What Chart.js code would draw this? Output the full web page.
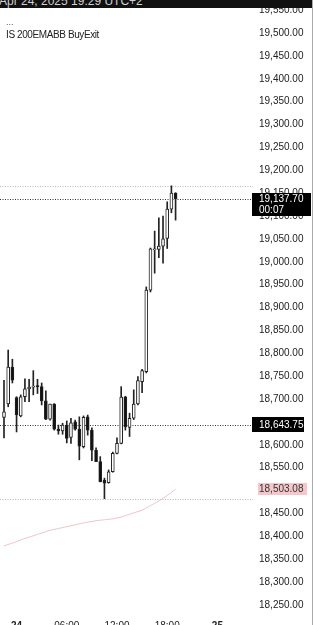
<!DOCTYPE html>
<html>
<head>
<meta charset="utf-8">
<script src="https://cdn.jsdelivr.net/npm/chart.js@4.4.1/dist/chart.umd.min.js"></script>
<style>
  body { margin:0; background:#fff; overflow:hidden; font-family:"Liberation Sans", Arial, sans-serif; }
  #wrap { position:relative; width:313px; height:640px; }
  #topbar { position:absolute; left:0; top:0; width:313px; height:8px; background:#111; overflow:hidden; z-index:2; }
  #topbar span { position:absolute; left:-1px; top:-6px; color:#d0d0d0; font-size:12px; white-space:nowrap; }
  #dots { position:absolute; left:6px; top:17px; font-size:9px; color:#555; z-index:2; }
  #study { position:absolute; left:6px; top:29px; font-size:10px; color:#222; letter-spacing:-0.4px; z-index:2; }
  #edge { position:absolute; left:312px; top:0; width:1px; height:640px; background:#aaa; z-index:2; }
</style>
</head>
<body>
<div id="wrap">
  <div id="topbar"><span>Apr 24, 2025 19:29 UTC+2</span></div>
  <div id="dots">...</div>
  <div id="study">IS 200EMABB BuyExit</div>
  <div id="edge"></div>
  <canvas id="myChart"></canvas>
</div>
<script>
// 30 minute bars, 23 Apr 22:30 -> 24 Apr 19:00, then empty space up to 25 Apr 04:00
const times = [
  '23 22:30','23 23:00','23 23:30','24 00:00','24 00:30','24 01:00','24 01:30','24 02:00',
  '24 02:30','24 03:00','24 03:30','24 04:00','24 04:30','24 05:00','24 05:30','24 06:00',
  '24 06:30','24 07:00','24 07:30','24 08:00','24 08:30','24 09:00','24 09:30','24 10:00',
  '24 10:30','24 11:00','24 11:30','24 12:00','24 12:30','24 13:00','24 13:30','24 14:00',
  '24 14:30','24 15:00','24 15:30','24 16:00','24 16:30','24 17:00','24 17:30','24 18:00',
  '24 18:30','24 19:00','24 19:30','24 20:00','24 20:30','24 21:00','24 21:30','24 22:00',
  '24 22:30','24 23:00','24 23:30','25 00:00','25 00:30','25 01:00','25 01:30','25 02:00',
  '25 02:30','25 03:00','25 03:30','25 04:00'
];

const open  = [18660,18689,18770,18703,18663,18705,18722,18726,18728,18727,18696,18656,18689,18634,18630,18643,
               18616,18650,18634,18596,18661,18632,18588,18563,18523,18517,18541,18581,18603,18705,18638,18658,
               18689,18738,18760,18938,19026,19027,19034,19051,19115,19150];
const high  = [18741,18807,18787,18705,18709,18744,18743,18762,18743,18735,18718,18689,18690,18643,18647,18652,
               18658,18654,18661,18663,18665,18637,18593,18574,18527,18545,18584,18615,18727,18706,18669,18720,
               18749,18765,18945,19030,19067,19096,19100,19131,19166,19151];
const low   = [18615,18683,18735,18628,18661,18694,18694,18709,18712,18687,18655,18654,18632,18623,18623,18604,
               18603,18632,18567,18593,18621,18565,18563,18519,18482,18516,18540,18580,18602,18632,18618,18655,
               18687,18714,18757,18934,18975,19009,18997,19029,19107,19091];
const close = [18672,18770,18741,18665,18705,18722,18726,18728,18727,18696,18656,18689,18634,18630,18643,18614,
               18648,18634,18597,18660,18632,18588,18563,18519,18516,18541,18581,18603,18704,18639,18658,18689,
               18740,18762,18938,19028,19028,19034,19050,19115,19150,19137.70];

// 200 EMA (pink line)
const ema = [18379,18382,18385,18388,18392,18395,18398,18401,18404,18407,18410,18413,18415,18417,18419,18421,
             18423,18425,18427,18429,18431,18432,18434,18435,18436,18437,18438,18440,18442,18445,18448,18451,
             18454,18457,18462,18467,18472,18477,18483,18489,18496,18503.08];

const yTicks = [18250,18300,18350,18400,18450,18500,18550,18600,18650,18700,18750,18800,18850,18900,
                18950,19000,19050,19100,19150,19200,19250,19300,19350,19400,19450,19500,19550];
const xTickText = { '24 00:00':'24', '24 06:00':'06:00', '24 12:00':'12:00', '24 18:00':'18:00', '25 00:00':'25' };

const lastPrice = 19137.70;
const prevClose = 18643.75;
const dayHigh = 19166;
const dayLow = 18482;
const emaLast = 18503.08;

// y calibration: 19,500 sits 33px from the top, 0.4575 px per point
const yRef = 19500, yRefPx = 33, pxPerPoint = 0.4575;

const fmt = v => v.toLocaleString('en-US', {minimumFractionDigits:2, maximumFractionDigits:2});
const FONT = '"Liberation Sans", Arial, sans-serif';

const wicks = low.map((l, i) => [l, high[i]]);
const bodies = open.map((o, i) => [o, close[i]]);
const bodyColor = open.map((o, i) => close[i] >= o ? '#ffffff' : '#111111');

const levelLines = [
  {value: dayHigh, color: '#b8b8b8'},
  {value: lastPrice, color: '#333333'},
  {value: prevClose, color: '#333333'},
  {value: dayLow, color: '#b8b8b8'}
];
const tags = [
  {value: lastPrice, lines: [fmt(lastPrice), '00:07'], bg: '#000', fg: '#fff', x0: 252, x1: 311, up: 6, down: 17},
  {value: prevClose, lines: [fmt(prevClose)], bg: '#000', fg: '#fff', x0: 252, x1: 304, up: 8, down: 7},
  {value: emaLast, lines: [fmt(emaLast)], bg: '#f5c6ca', fg: '#333', x0: 258, x1: 307, up: 6, down: 6}
];

const overlay = {
  id: 'overlay',
  beforeDatasetsDraw(chart) {
    const {ctx, chartArea, scales} = chart;
    ctx.save();
    ctx.lineWidth = 1;
    ctx.setLineDash([1, 1.5]);
    levelLines.forEach(l => {
      const py = Math.round(scales.y.getPixelForValue(l.value)) + 0.5;
      ctx.strokeStyle = l.color;
      ctx.beginPath();
      ctx.moveTo(0, py);
      ctx.lineTo(chartArea.right, py);
      ctx.stroke();
    });
    ctx.restore();
  },
  afterDraw(chart) {
    const {ctx, scales} = chart;
    ctx.save();
    ctx.font = '10px ' + FONT;
    ctx.textBaseline = 'middle';
    tags.forEach(t => {
      const py = Math.round(scales.y.getPixelForValue(t.value));
      ctx.fillStyle = t.bg;
      ctx.fillRect(t.x0, py - t.up, t.x1 - t.x0, t.up + t.down);
      ctx.fillStyle = t.fg;
      t.lines.forEach((s, k) => ctx.fillText(s, 259, py + 0.5 + k * 11));
    });
    ctx.restore();
  }
};

const chart = new Chart('myChart', {
  type: 'bar',
  data: {
    labels: times,
    datasets: [
      {
        type: 'line',
        label: 'EMA 200',
        data: ema,
        borderColor: '#ebc3c7',
        borderWidth: 1,
        pointRadius: 0,
        tension: 0.3,
        order: 5
      },
      {
        label: 'wick',
        data: wicks,
        backgroundColor: '#222',
        barThickness: 1,
        grouped: false,
        order: 2
      },
      {
        label: 'body',
        data: bodies,
        backgroundColor: bodyColor,
        borderColor: '#222',
        borderWidth: 1,
        borderSkipped: false,
        barThickness: 3,
        minBarLength: 1,
        grouped: false,
        order: 1
      }
    ]
  },
  options: {
    responsive: true,
    maintainAspectRatio: false,
    animation: false,
    layout: {padding: 0},
    plugins: {
      legend: {display: false},
      tooltip: {enabled: false}
    },
    scales: {
      x: {
        offset: true,
        grid: {display: false, drawTicks: false},
        border: {display: false},
        ticks: {
          autoSkip: false,
          maxRotation: 0,
          padding: 4,
          color: '#222',
          font: c => ({size: 10, family: FONT, weight: (c.tick && (c.tick.label === '24' || c.tick.label === '25')) ? 'bold' : 'normal'}),
          callback: function (v) { return xTickText[this.getLabelForValue(v)] || ''; }
        },
        afterFit: s => { s.height = 24; }
      },
      y: {
        position: 'right',
        bounds: 'data',
        grid: {display: false, drawTicks: false},
        border: {display: false},
        ticks: {
          padding: 6,
          color: '#222',
          font: {size: 10, family: FONT},
          callback: v => fmt(v)
        },
        afterFit: s => { s.width = 60; },
        afterDataLimits: s => {
          const ca = s.chart.chartArea;
          const top = ca ? ca.top : 6;
          const bottom = ca ? ca.bottom : 616;
          s.max = yRef + (yRefPx - top) / pxPerPoint;
          s.min = s.max - (bottom - top) / pxPerPoint;
        },
        afterBuildTicks: s => { s.ticks = yTicks.map(v => ({value: v})); }
      }
    }
  },
  plugins: [overlay]
});
chart.update('none');
</script>
</body>
</html>
